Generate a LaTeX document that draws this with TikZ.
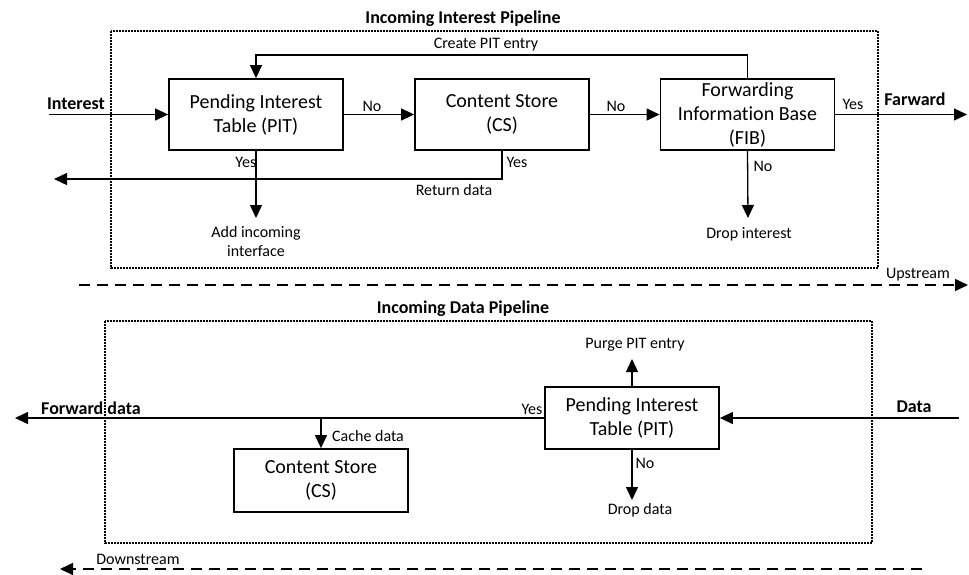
\documentclass[tikz,border=0pt]{standalone}
\usepackage{fontspec}
\setmainfont{Carlito}[Ligatures=NoCommon]
\usetikzlibrary{arrows.meta}
\begin{document}
\begin{tikzpicture}[x=1pt,y=-1pt,
  blk/.style={draw,line width=1.8pt,minimum width=174pt,minimum height=71pt,
    align=center,inner sep=0pt,font=\fontsize{20}{24}\selectfont},
  lbl/.style={font=\fontsize{16}{19}\selectfont,inner sep=1pt,align=center},
  ttl/.style={font=\bfseries\fontsize{18}{21}\selectfont,inner sep=1pt},
  frame/.style={draw,line width=1.1pt,dash pattern=on 1.6pt off 1.4pt},
  flow/.style={line width=1.3pt,-{Triangle[length=13pt,width=12pt]}},
  stream/.style={line width=1.5pt,dash pattern=on 11pt off 7pt,
    -{Triangle[length=13pt,width=12pt]}}]
\useasboundingbox (0,0) rectangle (969,574);

% ---------------- Incoming Interest Pipeline ----------------
\draw[frame] (111,31) rectangle (878,268);
\node[ttl] (t1) at (463,19) {Incoming Interest Pipeline};

\node[blk] (pit1) at (256,114.5) {Pending Interest\\Table (PIT)};
\node[blk] (cs1)  at (502,114.5) {Content Store\\(CS)};
\node[blk] (fib)  at (747.5,114.5) {Forwarding\\Information Base\\(FIB)};

\coordinate (inI)  at (49,114.5);
\coordinate (fwdI) at (967,114.5);
\coordinate (ret)  at (54,179);
\coordinate (addI) at (256,218);
\coordinate (dropI) at (748,218);

\draw[flow] (inI) -- (pit1.west);
\node[ttl] (lin) at (76,104) {Interest};

\draw[flow] (pit1) -- (cs1);
\node[lbl] (no1) at (372,106) {No};
\draw[flow] (cs1) -- (fib);
\node[lbl] (no2) at (616,106) {No};

\draw[flow] (fib) -- (fwdI);
\node[lbl] (yes3) at (853,104) {Yes};
\node[ttl] (lfw) at (915,99) {Farward};

\draw[flow] (fib.north) -- ++(0,-23) -| (pit1.north);
\node[lbl] (cpe) at (486,45) {Create PIT entry};

\draw[flow] (cs1.south) |- (ret);
\node[lbl] (yes2) at (517,162) {Yes};
\node[lbl] (rd) at (454,190) {Return data};

\draw[flow] (pit1.south) -- (addI);
\node[lbl,anchor=east] (yes1) at (257.5,162) {Yes};
\node[lbl] (aii) at (256,241.5) {Add incoming\\interface};

\draw[flow] (fib.south) -- (dropI);
\node[lbl] (no3) at (763,166) {No};
\node[lbl] (di) at (749,234) {Drop interest};

\coordinate (us0) at (79,285);
\coordinate (us1) at (968,285);
\draw[stream] (us0) -- (us1);
\node[lbl] (up) at (918,275) {Upstream};

% ---------------- Incoming Data Pipeline ----------------
\draw[frame] (105,321) rectangle (872,543);
\node[ttl] (t2) at (463,309) {Incoming Data Pipeline};

\node[blk,minimum height=62pt] (pit2) at (632,418) {Pending Interest\\Table (PIT)};
\node[blk,minimum height=63pt] (cs2)  at (321,480.5) {Content Store\\(CS)};

\coordinate (dinD)  at (959,418);
\coordinate (foutD) at (15,418);
\coordinate (cj)    at (321,418);
\coordinate (purge) at (632,359);
\coordinate (ddrop) at (632,500);

\draw[flow] (dinD) -- (pit2.east);
\node[ttl] (ld) at (914,407) {Data};

\draw[flow] (pit2.west) -- (foutD);
\node[ttl] (lfd) at (91,408) {Forward data};
\node[lbl] (yes4) at (532,409) {Yes};

\draw[flow] (cj) -- (cs2.north);
\node[lbl] (cd) at (368,436) {Cache data};

\draw[flow] (pit2.north) -- (purge);
\node[lbl] (ppe) at (635,345) {Purge PIT entry};

\draw[flow] (pit2.south) -- (ddrop);
\node[lbl] (no4) at (645,463) {No};
\node[lbl] (dd) at (640,510) {Drop data};

\coordinate (ds0) at (922,569);
\coordinate (ds1) at (60,569);
\draw[stream] (ds0) -- (ds1);
\node[lbl] (down) at (138,559) {Downstream};
\end{tikzpicture}
\end{document}
